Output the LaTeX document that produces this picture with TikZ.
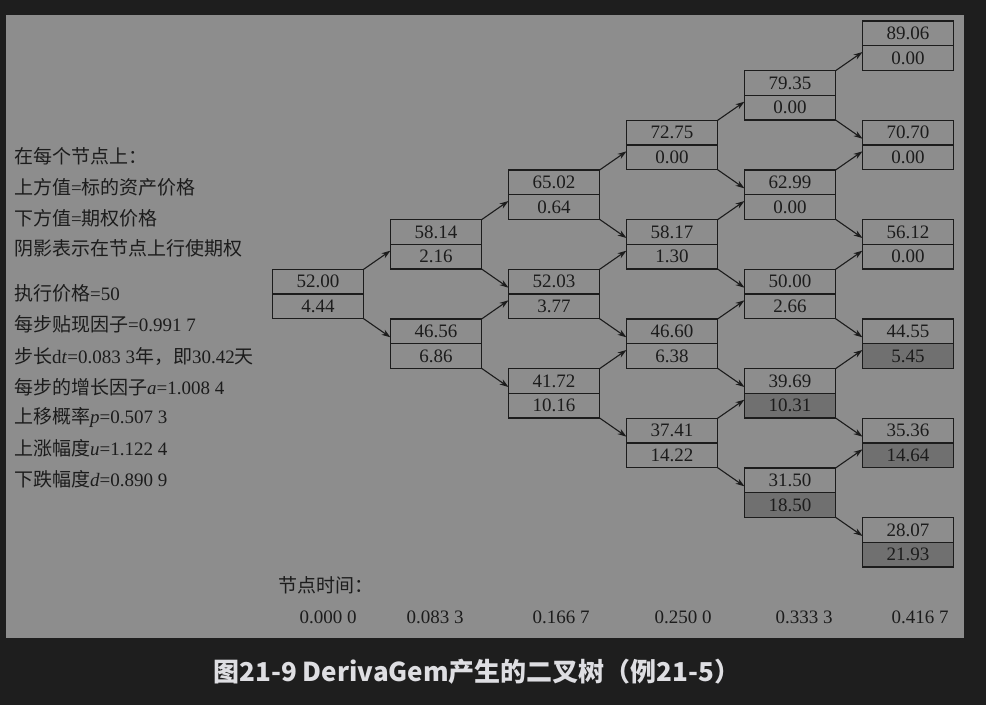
\documentclass[tikz,border=0pt]{standalone}
\usepackage{fontspec}
\setmainfont{Liberation Serif}
\newfontfamily\cjk{Noto Sans CJK SC}
\usetikzlibrary{arrows.meta}
\definecolor{bgdark}{RGB}{30,30,30}
\definecolor{panel}{RGB}{141,141,141}
\definecolor{shade}{RGB}{112,112,112}
\definecolor{ink}{RGB}{28,28,28}
\definecolor{captxt}{RGB}{222,222,226}
\begin{document}
\begin{tikzpicture}[x=1pt,y=-1pt,>={Stealth[length=9pt,width=6pt]},
	cell/.style={draw=ink,line width=1.3pt,minimum width=91pt,minimum height=24.6pt,inner sep=0pt,outer sep=0pt,text=ink,font=\fontsize{19}{22}\selectfont},
	up/.style={cell,anchor=south},
	low/.style={cell,anchor=north},
	ex/.style={low,fill=shade},
	note/.style={anchor=west,inner sep=0pt,text=ink,font=\fontsize{19}{22}\selectfont},
	lnk/.style={->,draw=ink,line width=1.1pt}]
	\useasboundingbox (0,0) rectangle (986,705);
	\fill[bgdark] (0,0) rectangle (986,705);
	\fill[panel] (6,15) rectangle (964,638);
	% legend on the left
	\node[note] (l1) at (14,156) {{\cjk 在每个节点上：}};
	\node[note] (l2) at (14,187) {{\cjk 上方值}={\cjk 标的资产价格}};
	\node[note] (l3) at (14,218) {{\cjk 下方值}={\cjk 期权价格}};
	\node[note] (l4) at (14,248) {{\cjk 阴影表示在节点上行使期权}};
	\node[note] (l5) at (14,293) {{\cjk 执行价格}=50};
	\node[note] (l6) at (14,324) {{\cjk 每步贴现因子}=0.991 7};
	\node[note] (l7) at (14,356) {{\cjk 步长}d\textit{t}=0.083 3{\cjk 年，即}30.42{\cjk 天}};
	\node[note] (l8) at (14,387) {{\cjk 每步的增长因子}\textit{a}=1.008 4};
	\node[note] (l9) at (14,417) {{\cjk 上移概率}\textit{p}=0.507 3};
	\node[note] (l10) at (14,448) {{\cjk 上涨幅度}\textit{u}=1.122 4};
	\node[note] (l11) at (14,479) {{\cjk 下跌幅度}\textit{d}=0.890 9};
	% tree: upper cell = asset price, lower cell = option price
	\foreach \i/\j/\s/\v/\f in {0/0/52.00/4.44/low,
		1/0/58.14/2.16/low, 1/1/46.56/6.86/low,
		2/0/65.02/0.64/low, 2/1/52.03/3.77/low, 2/2/41.72/10.16/low,
		3/0/72.75/0.00/low, 3/1/58.17/1.30/low, 3/2/46.60/6.38/low, 3/3/37.41/14.22/low,
		4/0/79.35/0.00/low, 4/1/62.99/0.00/low, 4/2/50.00/2.66/low, 4/3/39.69/10.31/ex, 4/4/31.50/18.50/ex,
		5/0/89.06/0.00/low, 5/1/70.70/0.00/low, 5/2/56.12/0.00/low, 5/3/44.55/5.45/ex, 5/4/35.36/14.64/ex, 5/5/28.07/21.93/ex}{
		\node[up] (s\i\j) at ({318+118*\i},{294-49.66*\i+99.32*\j}) {\s};
		\node[\f] (v\i\j) at (s\i\j.south) {\v};
	}
	\foreach \i in {0,...,4}{
		\pgfmathtruncatemacro\k{\i+1}
		\foreach \j in {0,...,\i}{
			\pgfmathtruncatemacro\m{\j+1}
			\draw[lnk] (s\i\j.north east) -- ([yshift=6pt]v\k\j.west);
			\draw[lnk] (v\i\j.south east) -- ([yshift=-6pt]s\k\m.west);
		}
	}
	% time axis
	\node[note] (tt) at (278,585) {{\cjk 节点时间：}};
	\node[note,anchor=center] (t0) at (328,617) {0.000 0};
	\node[note,anchor=center] (t1) at (435,617) {0.083 3};
	\node[note,anchor=center] (t2) at (561,617) {0.166 7};
	\node[note,anchor=center] (t3) at (683,617) {0.250 0};
	\node[note,anchor=center] (t4) at (804,617) {0.333 3};
	\node[note,anchor=center] (t5) at (920,617) {0.416 7};
	\node[text=captxt,font=\fontsize{26}{30}\selectfont\cjk\bfseries] (cap) at (477,672) {图21-9 DerivaGem产生的二叉树（例21-5）};
\end{tikzpicture}
\end{document}
